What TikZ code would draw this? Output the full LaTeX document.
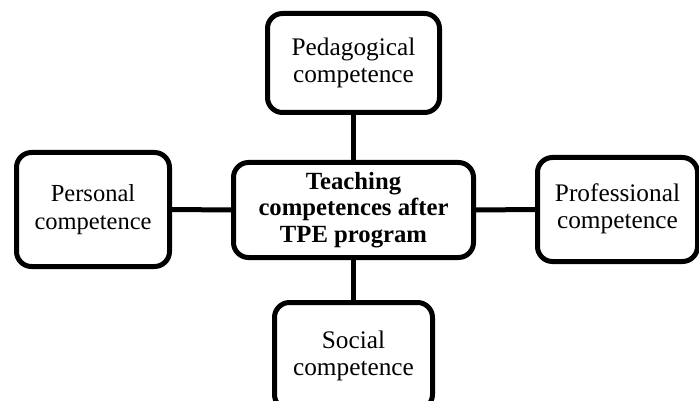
\documentclass[tikz,border=0pt]{standalone}
\usepackage{fontspec}
\setmainfont{Liberation Serif}
\newcommand{\twolines}[3]{\raisebox{#1}{\begin{tabular}{@{}c@{}}#2\\#3\end{tabular}}}
\begin{document}
\begin{tikzpicture}[x=1pt,y=-1pt,
  box/.style={draw=black,line width=5pt,rounded corners=15pt,fill=white,align=center,inner sep=0pt,
    font=\fontsize{25.3}{27.3}\selectfont},
  link/.style={draw=black,line width=5pt}]
\useasboundingbox (0,0) rectangle (699,401);
\node[box,minimum width=172pt,minimum height=99pt] (ped) at (353.5,63) {Pedagogical\\competence};
\node[box,minimum width=153pt,minimum height=114pt,font=\fontsize{24.5}{28}\selectfont] (per) at (93,209.5) {\twolines{-4pt}{Personal}{competence}};
\node[box,minimum width=240pt,minimum height=95pt,font=\fontsize{24.7}{26.5}\selectfont\bfseries] (cen) at (353.5,210) {Teaching\\competences after\\TPE program};
\node[box,minimum width=160pt,minimum height=104pt] (pro) at (617.5,209.5) {\twolines{-3pt}{Professional}{competence}};
\node[box,minimum width=158pt,minimum height=107pt] (soc) at (353.5,356) {Social\\competence};
\draw[link] (ped.south) -- (cen.north);
\draw[link] (cen.south) -- (soc.north);
\draw[link] (per.east) -- (cen.west);
\draw[link] (cen.east) -- (pro.west);
\end{tikzpicture}
\end{document}
